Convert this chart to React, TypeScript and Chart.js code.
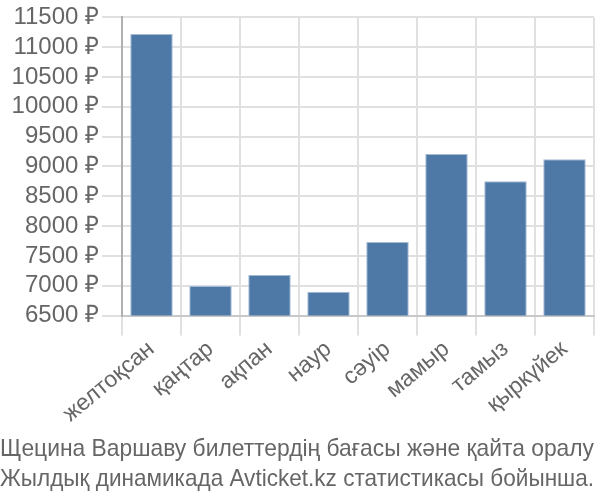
import React, { useEffect, useRef } from "react";
import { Chart, registerables } from "chart.js";

Chart.register(...registerables);

const categories = ["желтоқсан", "қаңтар", "ақпан", "наур", "сәуір", "мамыр", "тамыз", "қыркүйек"];
const prices = [11220, 6995, 7180, 6900, 7735, 9210, 8750, 9120];
const titleLines = [
  "Щецина Варшаву билеттердің бағасы және қайта оралу",
  "Жылдық динамикада Avticket.kz статистикасы бойынша.",
];

const FONT = "'Liberation Sans', Arial, sans-serif";

export default function App() {
  const ref = useRef<HTMLCanvasElement | null>(null);
  useEffect(() => {
    document.body.style.margin = "0";
    const ctx = ref.current!;
    const chart = new Chart(ctx, {
      type: "bar",
      data: {
        labels: categories,
        datasets: [
          {
            data: prices,
            backgroundColor: "#4e79a7",
            borderColor: "#a4bbd6",
            borderWidth: 1,
          },
        ],
      },
      options: {
        animation: false,
        responsive: false,
        maintainAspectRatio: false,
        layout: { padding: { top: 0, right: 6, left: 0, bottom: 0 } },
        plugins: {
          legend: { display: false },
          tooltip: { enabled: false },
          title: {
            display: true,
            position: "bottom",
            text: titleLines,
            color: "#666",
            font: { family: FONT, size: 24, weight: "normal", lineHeight: 1.25 },
            padding: { top: 6, bottom: 6 },
          },
        },
        scales: {
          x: {
            grid: { color: "#e0e0e0", lineWidth: 2, tickLength: 20, offset: true },
            border: { color: "#c8c8c8", width: 2 },
            ticks: {
              color: "#666",
              font: { family: FONT, size: 23 },
              minRotation: 40,
              maxRotation: 40,
              padding: 0,
            },
          },
          y: {
            min: 6500,
            max: 11500,
            afterFit: (scale: any) => {
              scale.width = 122;
            },
            grid: { color: "#e0e0e0", lineWidth: 2, tickLength: 20 },
            border: { color: "#b0b0b0", width: 2 },
            ticks: {
              stepSize: 500,
              autoSkip: false,
              color: "#666",
              font: { family: FONT, size: 24 },
              padding: 3,
              callback: (v: any) => `${v} ₽`,
            },
          },
        },
      },
    });
    return () => chart.destroy();
  }, []);
  return (
    <div style={{ width: 600, height: 500 }}>
      <canvas ref={ref} width={600} height={500} />
    </div>
  );
}
